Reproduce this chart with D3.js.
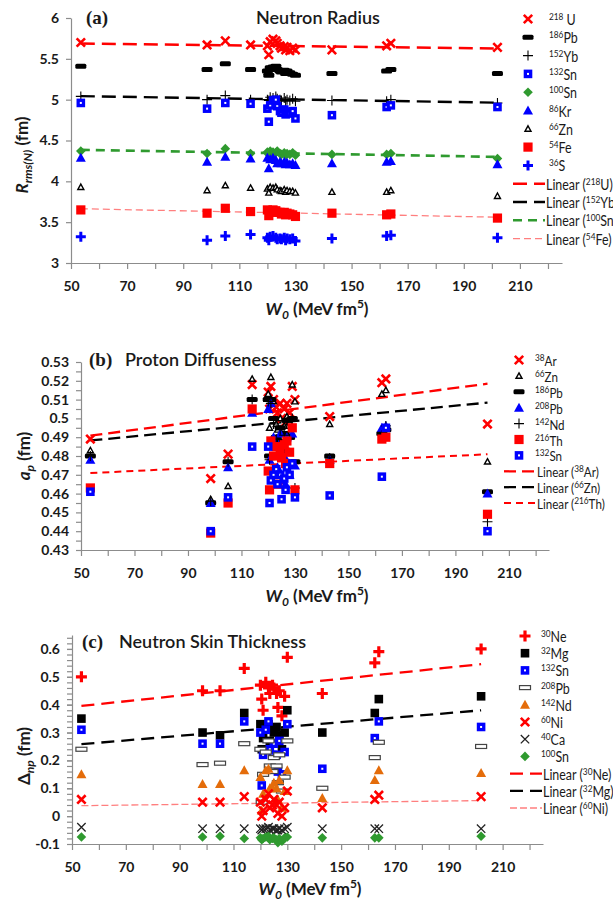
<!DOCTYPE html>
<html>
<head>
<meta charset="utf-8">
<script src="https://cdn.jsdelivr.net/npm/d3@7"></script>
<style>
body { margin: 0; background: #fff; }
text { font-family: Lato, "Open Sans", sans-serif; fill: #1a1a1a; }
</style>
</head>
<body>
<div id="main"></div>
<script>
// W0 (MeV fm^5) of the Skyrme forces, shared by the three panels
var W0 = [53.5, 98.5, 105, 114, 120, 120.5, 121, 122, 123, 123.5, 124.5, 125,
          126, 126.5, 127, 128, 129, 130, 143, 162.5, 164, 202];

// (a) neutron rms radius (fm)
var rU218  = [5.70, 5.67, 5.72, 5.67, 5.66, 5.55, 5.71, 5.74, 5.72, 5.69, 5.66, 5.63, 5.65, 5.61, 5.64, 5.60, 5.63, 5.61, 5.61, 5.66, 5.69, 5.64];
var rPb186 = [5.41, 5.37, 5.44, 5.37, 5.35, 5.30, 5.39, 5.40, 5.41, 5.37, 5.35, 5.34, 5.36, 5.32, 5.35, 5.33, 5.31, 5.30, 5.32, 5.35, 5.37, 5.32];
var rYb152 = [5.04, 5.00, 5.05, 5.00, 5.00, 4.99, 5.03, 5.02, 5.04, 5.01, 5.00, 4.99, 5.02, 4.98, 5.00, 4.99, 5.01, 4.98, 4.99, 4.98, 5.00, 4.96];
var rSn132 = [4.96, 4.89, 4.96, 4.95, 4.89, 4.73, 4.93, 4.99, 5.00, 4.92, 4.86, 4.84, 4.88, 4.82, 4.85, 4.83, 4.86, 4.77, 4.81, 4.91, 4.93, 4.91];
var rSn100 = [4.37, 4.34, 4.40, 4.34, 4.36, 4.33, 4.37, 4.36, 4.35, 4.37, 4.34, 4.33, 4.35, 4.32, 4.34, 4.33, 4.35, 4.32, 4.33, 4.33, 4.34, 4.28];
var rKr86  = [4.29, 4.24, 4.30, 4.28, 4.29, 4.16, 4.27, 4.29, 4.26, 4.22, 4.24, 4.22, 4.24, 4.21, 4.23, 4.21, 4.22, 4.20, 4.22, 4.24, 4.25, 4.21];
var rZn66  = [3.93, 3.89, 3.95, 3.92, 3.91, 3.86, 3.93, 3.92, 3.93, 3.90, 3.89, 3.88, 3.90, 3.87, 3.89, 3.88, 3.88, 3.86, 3.87, 3.87, 3.89, 3.82];
var rFe54  = [3.65, 3.61, 3.67, 3.63, 3.65, 3.58, 3.64, 3.65, 3.64, 3.62, 3.62, 3.60, 3.62, 3.59, 3.61, 3.60, 3.59, 3.57, 3.61, 3.59, 3.60, 3.55];
var rS36   = [3.32, 3.28, 3.33, 3.35, 3.31, 3.28, 3.32, 3.33, 3.31, 3.29, 3.30, 3.29, 3.31, 3.28, 3.30, 3.29, 3.30, 3.27, 3.30, 3.33, 3.34, 3.31];

// (b) proton diffuseness (fm)
var aAr38  = [0.489, 0.468, 0.481, 0.518, 0.514, 0.505, 0.517, 0.510, 0.506, 0.503, 0.508, 0.500, 0.505, 0.498, 0.508, 0.503, 0.517, 0.510, 0.501, 0.519, 0.521, 0.497];
var aZn66  = [0.483, 0.457, 0.464, 0.521, 0.513, 0.495, 0.522, 0.509, 0.497, 0.494, 0.500, 0.492, 0.496, 0.489, 0.501, 0.498, 0.518, 0.509, 0.497, 0.513, 0.515, 0.477];
var aPb186 = [0.480, 0.455, 0.477, 0.510, 0.510, 0.480, 0.510, 0.500, 0.490, 0.488, 0.495, 0.485, 0.492, 0.483, 0.499, 0.490, 0.500, 0.477, 0.480, 0.492, 0.494, 0.461];
var aPb208 = [0.478, 0.455, 0.474, 0.503, 0.505, 0.478, 0.508, 0.490, 0.488, 0.474, 0.492, 0.467, 0.480, 0.465, 0.490, 0.470, 0.492, 0.475, 0.478, 0.495, 0.496, 0.460];
var aNd142 = [0.480, 0.456, 0.477, 0.510, 0.509, 0.478, 0.508, 0.497, 0.489, 0.487, 0.494, 0.484, 0.491, 0.482, 0.498, 0.489, 0.500, 0.463, 0.479, 0.491, 0.496, 0.445];
var aTh216 = [0.463, 0.439, 0.455, 0.505, 0.472, 0.462, 0.488, 0.480, 0.485, 0.465, 0.483, 0.479, 0.486, 0.476, 0.488, 0.482, 0.495, 0.462, 0.476, 0.489, 0.490, 0.449];
var aSn132 = [0.461, 0.440, 0.458, 0.485, 0.485, 0.455, 0.467, 0.470, 0.473, 0.465, 0.470, 0.457, 0.468, 0.462, 0.474, 0.470, 0.476, 0.458, 0.459, 0.469, 0.495, 0.440];

// (c) neutron skin thickness (fm)
var dNe30  = [0.50, 0.45, 0.45, 0.53, 0.47, 0.42, 0.38, 0.48, 0.46, 0.44, 0.47, 0.46, 0.44, 0.39, 0.45, 0.36, 0.43, 0.57, 0.44, 0.55, 0.59, 0.60];
var dMg32  = [0.35, 0.30, 0.29, 0.37, 0.33, 0.24, 0.28, 0.32, 0.33, 0.27, 0.31, 0.30, 0.32, 0.26, 0.29, 0.24, 0.30, 0.38, 0.30, 0.37, 0.42, 0.43];
var dSn132 = [0.31, 0.26, 0.26, 0.34, 0.30, 0.11, 0.22, 0.31, 0.34, 0.24, 0.22, 0.26, 0.22, 0.16, 0.27, 0.15, 0.23, 0.33, 0.17, 0.28, 0.34, 0.32];
var dPb208 = [0.24, 0.185, 0.19, 0.26, 0.24, 0.05, 0.15, 0.23, 0.27, 0.18, 0.16, 0.21, 0.18, 0.12, 0.22, 0.09, 0.14, 0.27, 0.10, 0.21, 0.265, 0.25];
var dNd142 = [0.15, 0.115, 0.115, 0.165, 0.14, 0.02, 0.08, 0.165, 0.17, 0.10, 0.10, 0.12, 0.10, 0.06, 0.13, 0.03, 0.09, 0.165, 0.065, 0.13, 0.165, 0.155];
var dNi60  = [0.06, 0.05, 0.05, 0.07, 0.05, 0.00, 0.02, 0.06, 0.08, 0.03, 0.04, 0.06, 0.04, 0.01, 0.05, 0.00, 0.03, 0.09, 0.03, 0.06, 0.075, 0.07];
var dCa40  = [-0.04, -0.045, -0.045, -0.045, -0.045, -0.05, -0.045, -0.045, -0.04, -0.05, -0.045, -0.045, -0.05, -0.05, -0.045, -0.05, -0.045, -0.04, -0.045, -0.045, -0.045, -0.045];
var dSn100 = [-0.075, -0.075, -0.072, -0.08, -0.078, -0.085, -0.08, -0.075, -0.072, -0.085, -0.08, -0.078, -0.085, -0.095, -0.08, -0.09, -0.078, -0.075, -0.078, -0.078, -0.078, -0.072];

// tick labels
var xTickLabels = [50, 70, 90, 110, 130, 150, 170, 190, 210];
var yTicksA = [3, 3.5, 4, 4.5, 5, 5.5, 6];
var yTicksB = [0.43, 0.44, 0.45, 0.46, 0.47, 0.48, 0.49, 0.5, 0.51, 0.52, 0.53];
var yTicksC = [-0.1, 0, 0.1, 0.2, 0.3, 0.4, 0.5, 0.6];

var RED = "#ff0000", BLUE = "#0000ff", BLACK = "#000000", GREEN = "#2f9a2f", ORANGE = "#e46c0a", PINK = "#ff7f7f";

var panels = [
    {
        x0: 71, x1: 562, yBottom: 263, yTop: 18, yDomain: [3, 6], yTicks: yTicksA, yMinor: [],
        tag: "(a)", tagX: 86, title: "Neutron Radius", titleX: 256, titleY: 24,
        yLabel: ["R", "rms(N)", " (fm)"], yLabelX: 28, yLabelY: 155, xLabelX: 317, xLabelY: 315,
        legX: 528, legTextX: 549, legY0: 19, legStep: 18.3, legFont: 15,
        series: [
            { sup: "218", el: " U", v: rU218,  shape: "x",     color: RED,   r: 4.2, sw: 2.6 },
            { sup: "186", el: "Pb", v: rPb186, shape: "dash",  color: BLACK, w: 11, h: 5 },
            { sup: "152", el: "Yb", v: rYb152, shape: "plus",  color: BLACK, r: 5, sw: 1.1 },
            { sup: "132", el: "Sn", v: rSn132, shape: "sqo",   color: BLUE,  r: 4.3 },
            { sup: "100", el: "Sn", v: rSn100, shape: "diam",  color: GREEN, r: 4.8 },
            { sup: "86",  el: "Kr", v: rKr86,  shape: "tri",   color: BLUE,  r: 5 },
            { sup: "66",  el: "Zn", v: rZn66,  shape: "trio",  color: BLACK, r: 3 },
            { sup: "54",  el: "Fe", v: rFe54,  shape: "sq",    color: RED,   r: 4.6 },
            { sup: "36",  el: "S",  v: rS36,   shape: "plus",  color: BLUE,  r: 5, sw: 3 }
        ],
        fits: [
            { of: 0, color: RED,   sw: 2.4, dash: "14,7" },
            { of: 2, color: BLACK, sw: 2.4, dash: "14,7" },
            { of: 4, color: GREEN, sw: 2.6, dash: "9,6" },
            { of: 7, color: PINK,  sw: 1.3, dash: "7,4" }
        ]
    },
    {
        x0: 81, x1: 549, yBottom: 550, yTop: 362, yDomain: [0.43, 0.53], yTicks: yTicksB,
        yMinor: d3.range(0.435, 0.53, 0.01),
        tag: "(b)", tagX: 89, title: "Proton Diffuseness", titleX: 125, titleY: 366,
        yLabel: ["a", "p", " (fm)"], yLabelX: 30, yLabelY: 456, xLabelX: 317, xLabelY: 602,
        legX: 519, legTextX: 535, legY0: 360, legStep: 15.9, legFont: 14,
        series: [
            { sup: "38",  el: "Ar", v: aAr38,  shape: "x",    color: RED,   r: 4.2, sw: 2.6 },
            { sup: "66",  el: "Zn", v: aZn66,  shape: "trio", color: BLACK, r: 3 },
            { sup: "186", el: "Pb", v: aPb186, shape: "dash", color: BLACK, w: 11, h: 5 },
            { sup: "208", el: "Pb", v: aPb208, shape: "tri",  color: BLUE,  r: 5 },
            { sup: "142", el: "Nd", v: aNd142, shape: "plus", color: BLACK, r: 5, sw: 1.1 },
            { sup: "216", el: "Th", v: aTh216, shape: "sq",   color: RED,   r: 4.6 },
            { sup: "132", el: "Sn", v: aSn132, shape: "sqo",  color: BLUE,  r: 4.3 }
        ],
        fits: [
            { of: 0, color: RED,   sw: 2.3, dash: "12,6" },
            { of: 1, color: BLACK, sw: 2.3, dash: "12,6" },
            { of: 5, color: RED,   sw: 2.0, dash: "7,5" }
        ]
    },
    {
        x0: 72, x1: 543, yBottom: 844, yTop: 635, yDomain: [-0.1, 0.65], yTicks: yTicksC,
        yMinor: d3.range(-0.08, 0.65, 0.02),
        tag: "(c)", tagX: 82, title: "Neutron Skin Thickness", titleX: 119, titleY: 648,
        yLabel: ["\u0394", "np", " (fm)"], yLabelX: 30, yLabelY: 756, xLabelX: 310, xLabelY: 895,
        legX: 525, legTextX: 541, legY0: 636, legStep: 17.2, legFont: 15,
        series: [
            { sup: "30",  el: "Ne", v: dNe30,  shape: "plus",  color: RED,    r: 5.5, sw: 3.2 },
            { sup: "32",  el: "Mg", v: dMg32,  shape: "sq",    color: BLACK,  r: 4.3 },
            { sup: "132", el: "Sn", v: dSn132, shape: "sqo",   color: BLUE,   r: 4.3 },
            { sup: "208", el: "Pb", v: dPb208, shape: "dasho", color: BLACK,  w: 11, h: 4 },
            { sup: "142", el: "Nd", v: dNd142, shape: "tri",   color: ORANGE, r: 5 },
            { sup: "60",  el: "Ni", v: dNi60,  shape: "x",     color: RED,    r: 4.2, sw: 2.6 },
            { sup: "40",  el: "Ca", v: dCa40,  shape: "x",     color: "#222", r: 4.2, sw: 1.3 },
            { sup: "100", el: "Sn", v: dSn100, shape: "diam",  color: GREEN,  r: 4.8 }
        ],
        fits: [
            { of: 0, color: RED,   sw: 2.3, dash: "13,7" },
            { of: 1, color: BLACK, sw: 2.3, dash: "13,7" },
            { of: 5, color: PINK,  sw: 1.3, dash: "7,3" }
        ]
    }
];

function drawMarker(sel, s) {
    var r = s.r;
    switch (s.shape) {
    case "x":
        sel.append("path")
            .attr("d", "M" + (-r) + "," + (-r) + "L" + r + "," + r + "M" + (-r) + "," + r + "L" + r + "," + (-r))
            .attr("stroke", s.color).attr("stroke-width", s.sw).attr("fill", "none");
        break;
    case "plus":
        sel.append("path")
            .attr("d", "M" + (-r) + ",0H" + r + "M0," + (-r) + "V" + r)
            .attr("stroke", s.color).attr("stroke-width", s.sw).attr("fill", "none");
        break;
    case "dash":
        sel.append("rect").attr("x", -s.w / 2).attr("y", -s.h / 2).attr("width", s.w).attr("height", s.h)
            .attr("rx", 1.5).attr("fill", s.color);
        break;
    case "dasho":
        sel.append("rect").attr("x", -s.w / 2).attr("y", -s.h / 2).attr("width", s.w).attr("height", s.h)
            .attr("fill", "#fff").attr("stroke", "#444").attr("stroke-width", 1.2);
        break;
    case "sq":
        sel.append("rect").attr("x", -r).attr("y", -r).attr("width", 2 * r).attr("height", 2 * r).attr("fill", s.color);
        break;
    case "sqo":
        sel.append("rect").attr("x", -r).attr("y", -r).attr("width", 2 * r).attr("height", 2 * r).attr("fill", s.color);
        sel.append("rect").attr("x", -1).attr("y", -1).attr("width", 2).attr("height", 2).attr("fill", "#fff");
        break;
    case "diam":
        sel.append("path").attr("d", "M0," + (-r) + "L" + r + ",0L0," + r + "L" + (-r) + ",0Z").attr("fill", s.color);
        break;
    case "tri":
        sel.append("path").attr("d", "M0," + (-r) + "L" + r + "," + (r * 0.8) + "L" + (-r) + "," + (r * 0.8) + "Z").attr("fill", s.color);
        break;
    case "trio":
        sel.append("path").attr("d", "M0," + (-r) + "L" + r + "," + (r * 0.8) + "L" + (-r) + "," + (r * 0.8) + "Z")
            .attr("fill", "#fff").attr("stroke", s.color).attr("stroke-width", 1.4);
        break;
    }
}

function linearFit(xs, ys) {
    var mx = d3.mean(xs), my = d3.mean(ys);
    var sxy = d3.sum(xs, function(x, i) { return (x - mx) * (ys[i] - my); });
    var sxx = d3.sum(xs, function(x) { return (x - mx) * (x - mx); });
    var slope = sxy / sxx;
    return function(x) { return my + slope * (x - mx); };
}

var svg = d3.select("#main")
        .append("svg")
        .attr("width", 613)
        .attr("height", 902);

function fmt(d) { return String(+d.toFixed(3)); }

// legend text is set a little condensed, like the narrow face of the original
function legendText(g, x, y, size) {
    return g.append("text")
        .attr("transform", "translate(" + x + "," + y + ") scale(0.83,1)")
        .style("font-size", size + "px");
}

panels.forEach(function(p) {
    var g = svg.append("g");
    var x = d3.scaleLinear().domain([50, 225]).range([p.x0, p.x1]);
    var y = d3.scaleLinear().domain(p.yDomain).range([p.yBottom, p.yTop]);

    // x axis: ticks every 10, labels every 20 up to 210
    var xAxis = g.append("g")
            .attr("transform", "translate(0," + p.yBottom + ")")
            .call(d3.axisBottom(x)
                  .tickValues(d3.range(50, 221, 10))
                  .tickSize(6).tickSizeOuter(0)
                  .tickFormat(function(d) { return xTickLabels.indexOf(d) >= 0 ? d : ""; }));
    xAxis.selectAll("text").attr("dy", null).attr("y", 28)
        .style("font-size", "14px").style("font-weight", "bold").style("fill", "#1a1a1a");

    var yAxis = g.append("g")
            .attr("transform", "translate(" + p.x0 + ",0)")
            .call(d3.axisLeft(y).tickValues(p.yTicks).tickSize(5).tickSizeOuter(0).tickFormat(fmt));
    yAxis.selectAll("text").attr("x", -12)
        .style("font-size", "14px").style("font-weight", "bold").style("fill", "#1a1a1a");

    if (p.yMinor.length) {
        g.append("g")
            .attr("transform", "translate(" + p.x0 + ",0)")
            .call(d3.axisLeft(y).tickValues(p.yMinor).tickSize(5).tickSizeOuter(0).tickFormat(""))
            .select(".domain").remove();
    }

    g.selectAll(".domain, .tick line").attr("stroke", "#8c8c8c").attr("stroke-width", 1.2);
    g.selectAll(".tick text").attr("font-family", null);

    // trend lines
    var xMin = d3.min(W0), xMax = d3.max(W0);
    p.fits.forEach(function(f) {
        var fit = linearFit(W0, p.series[f.of].v);
        g.append("line")
            .attr("x1", x(xMin)).attr("y1", y(fit(xMin)))
            .attr("x2", x(xMax)).attr("y2", y(fit(xMax)))
            .attr("stroke", f.color).attr("stroke-width", f.sw)
            .attr("stroke-dasharray", f.dash);
    });

    // markers
    p.series.forEach(function(s) {
        g.append("g").selectAll("g")
            .data(s.v)
            .enter()
            .append("g")
            .attr("transform", function(d, i) { return "translate(" + x(W0[i]) + "," + y(d) + ")"; })
            .each(function() { drawMarker(d3.select(this), s); });
    });

    // titles
    g.append("text").attr("x", p.tagX).attr("y", p.titleY)
        .style("font-family", "'Liberation Serif', serif").style("font-weight", "bold").style("font-size", "19px")
        .text(p.tag);
    g.append("text").attr("x", p.titleX).attr("y", p.titleY)
        .style("font-size", "18px").style("font-weight", "600")
        .text(p.title);

    // axis titles
    var xl = g.append("text").attr("x", p.xLabelX).attr("y", p.xLabelY)
            .attr("text-anchor", "middle").style("font-size", "17px").style("font-weight", "bold");
    xl.append("tspan").style("font-style", "italic").text("W");
    xl.append("tspan").style("font-style", "italic").style("font-size", "12px").attr("dy", 4).text("0");
    xl.append("tspan").attr("dy", -4).text(" (MeV fm");
    xl.append("tspan").style("font-size", "12px").attr("dy", -7).text("5");
    xl.append("tspan").attr("dy", 7).text(")");

    var yl = g.append("text")
            .attr("transform", "translate(" + p.yLabelX + "," + p.yLabelY + ") rotate(-90)")
            .attr("text-anchor", "middle").style("font-size", "17px").style("font-weight", "bold");
    yl.append("tspan").style("font-style", p.yLabel[0] === "\u0394" ? "normal" : "italic").text(p.yLabel[0]);
    yl.append("tspan").style("font-style", "italic").style("font-size", "12px").attr("dy", 4).text(p.yLabel[1]);
    yl.append("tspan").attr("dy", -4).text(p.yLabel[2]);

    // legend
    var n = p.series.length;
    p.series.forEach(function(s, i) {
        var ly = p.legY0 + i * p.legStep;
        drawMarker(g.append("g").attr("transform", "translate(" + p.legX + "," + ly + ")"), s);
        var t = legendText(g, p.legTextX, ly + 6, p.legFont);
        t.append("tspan").style("font-size", "10px").attr("dy", -5).text(s.sup);
        t.append("tspan").attr("dy", 5).text(s.el);
    });
    p.fits.forEach(function(f, j) {
        var ly = p.legY0 + (n + j) * p.legStep;
        var s = p.series[f.of];
        g.append("line")
            .attr("x1", p.legX - 15).attr("x2", p.legX + 17).attr("y1", ly).attr("y2", ly)
            .attr("stroke", f.color).attr("stroke-width", f.sw).attr("stroke-dasharray", f.dash);
        var t = legendText(g, p.legX + 18, ly + 6, p.legFont);
        t.append("tspan").text("Linear (");
        t.append("tspan").style("font-size", "10px").attr("dy", -5).text(s.sup);
        t.append("tspan").attr("dy", 5).text(s.el.trim() + ")");
    });
});
</script>
</body>
</html>
